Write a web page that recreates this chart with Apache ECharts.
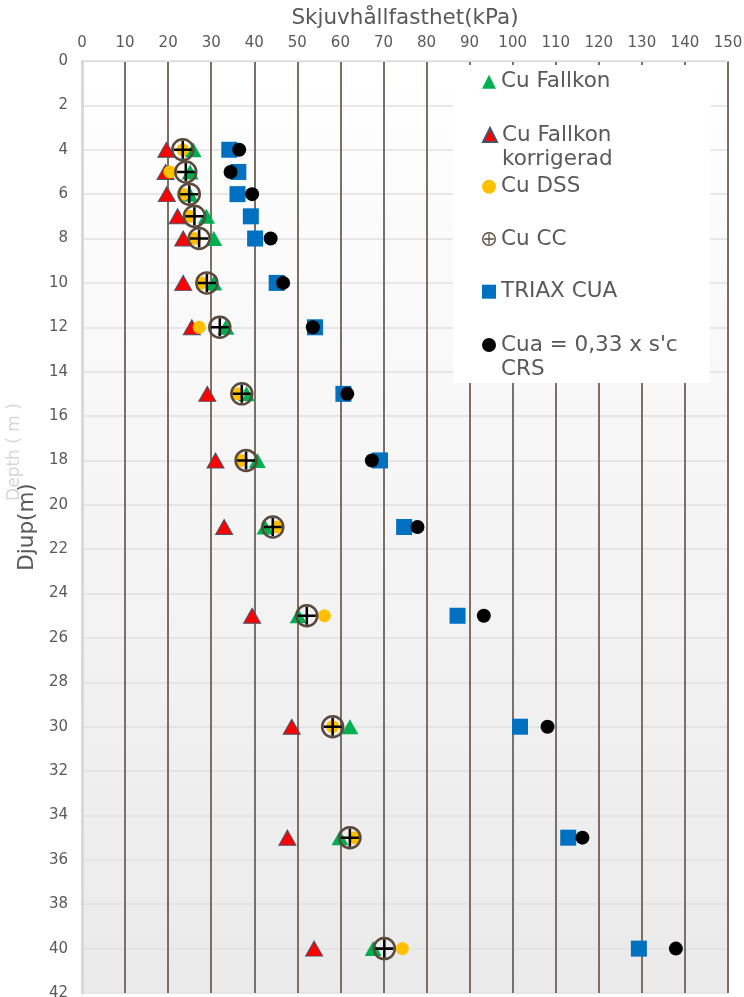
<!DOCTYPE html>
<html>
<head>
<meta charset="utf-8">
<script src="https://cdn.jsdelivr.net/npm/echarts@6/dist/echarts.min.js"></script>
<style>html,body{margin:0;padding:0;background:#fff}#c{width:744px;height:997px}</style>
</head>
<body>
<div id="c"></div>
<script>
// ---- data ----
const depths      = [4, 5, 6, 7, 8, 10, 12, 15, 18, 21, 25, 30, 35, 40];
const cuFallkon   = [25.8, 25.1, 25.0, 28.9, 30.6, 30.6, 33.4, 38.2, 40.7, 42.5, 50.2, 62.2, 59.9, 67.6];
const cuFallkonKorr = [19.6, 19.4, 19.7, 22.2, 23.5, 23.5, 25.5, 29.1, 31.0, 33.0, 39.5, 48.7, 47.7, 53.9];
const cuDSS       = [23.4, 20.4, 23.5, 25.1, 26.2, 27.8, 27.2, 36.3, 37.1, 45.2, 56.3, 58.2, 63.4, 74.4];
const cuCC        = [23.4, 24.1, 24.9, 26.1, 27.2, 29.0, 32.0, 37.1, 38.1, 44.3, 52.2, 58.2, 62.2, 70.2];
const triaxCUA    = [34.2, 36.3, 36.1, 39.2, 40.2, 45.2, 54.1, 60.7, 69.2, 74.8, 87.2, 101.7, 112.9, 129.3];
const cuaCRS      = [36.5, 34.5, 39.5, null, 43.8, 46.7, 53.6, 61.6, 67.3, 77.9, 93.3, 108.1, 116.2, 137.9];

const seriesNames = ['Cu Fallkon', 'Cu Fallkon\nkorrigerad', 'Cu DSS', 'Cu CC', 'TRIAX CUA', "Cua = 0,33 x s'c\nCRS"];
const xTitle = 'Skjuvhållfasthet(kPa)';
const yTitle = 'Djup(m)';
const ghostTitle = 'Depth ( m )';

function pairs(vals) {
  const out = [];
  vals.forEach((v, i) => { if (v !== null) out.push([v, depths[i]]); });
  return out;
}

const plusPath = 'path://M8.6,0H11.4V8.6H20V11.4H11.4V20H8.6V11.4H0V8.6H8.6Z';
const ccIcon = 'path://M0,10A10,10 0 1,0 20,10A10,10 0 1,0 0,10ZM2,10A8,8 0 1,1 18,10A8,8 0 1,1 2,10ZM9.1,3H10.9V9.1H17V10.9H10.9V17H9.1V10.9H3V9.1H9.1Z';

const chart = echarts.init(document.getElementById('c'), null, {renderer: 'canvas'});

const legendTextStyle = {fontFamily: 'DejaVu Sans', fontSize: 21.5, color: '#595959', lineHeight: 24};
function mkLegend(name, top, icon, twoLine, itemStyle) {
  const d = {name: name};
  if (icon) d.icon = icon;
  if (itemStyle) d.itemStyle = itemStyle;
  const l = {
    data: [d], left: 482, top: top, orient: 'vertical', padding: 0,
    itemWidth: 14, itemHeight: 14, selectedMode: false, z: 6,
    textStyle: legendTextStyle
  };
  if (twoLine) l.formatter = function (n) { return '\n' + n; };
  return l;
}

const option = {
  backgroundColor: '#ffffff',
  animation: false,
  grid: {
    left: 82, right: 16, top: 61, bottom: 4,
    outerBoundsMode: 'none', containLabel: false,
    show: true, borderWidth: 0,
    backgroundColor: new echarts.graphic.LinearGradient(0, 0, 0, 1, [
      {offset: 0, color: '#ffffff'}, {offset: 1, color: '#eaeaea'}
    ])
  },
  xAxis: {
    type: 'value', position: 'top', min: 0, max: 150, interval: 10,
    name: xTitle, nameLocation: 'middle', nameGap: 32,
    nameTextStyle: {fontFamily: 'DejaVu Sans', fontSize: 21.5, color: '#595959'},
    axisLine: {show: true, lineStyle: {color: '#d9d9d9', width: 1}},
    axisTick: {show: false},
    axisLabel: {fontFamily: 'DejaVu Sans', fontSize: 15, color: '#595959', margin: 10},
    splitLine: {show: true, lineStyle: {color: '#7d6f64', width: 2}}
  },
  yAxis: {
    type: 'value', inverse: true, min: 0, max: 42, interval: 2,
    name: yTitle, nameLocation: 'middle', nameGap: 44,
    nameTextStyle: {fontFamily: 'DejaVu Sans', fontSize: 21.5, color: '#595959'},
    axisLine: {show: true, onZero: false, lineStyle: {color: '#d9d9d9', width: 3}},
    axisTick: {show: false},
    axisLabel: {fontFamily: 'DejaVu Sans', fontSize: 15, color: '#595959', margin: 14},
    splitLine: {show: true, lineStyle: {color: '#e0e0e0', width: 1.5}}
  },
  legend: [
    mkLegend(seriesNames[0], 69.7, 'triangle'),
    mkLegend(seriesNames[1], 99, 'triangle', true),
    mkLegend(seriesNames[2], 174.7, 'circle'),
    mkLegend(seriesNames[3], 227, ccIcon, false, {color: '#5b4a3c', borderWidth: 0}),
    mkLegend(seriesNames[4], 279.7, 'rect'),
    mkLegend(seriesNames[5], 309, 'circle', true)
  ],
  graphic: [
    {type: 'rect', shape: {x: 453, y: 65, width: 257, height: 318}, style: {fill: '#ffffff'}, z: 5, silent: true},
    {type: 'text', x: 15, y: 452, rotation: Math.PI / 2, z: 1,
     style: {text: ghostTitle, fill: '#d6d6d6', font: '17px "DejaVu Sans"', align: 'center', verticalAlign: 'middle'}}
  ],
  series: [
    {name: seriesNames[0], type: 'scatter', data: pairs(cuFallkon), symbol: 'triangle', symbolSize: [17, 15],
     itemStyle: {color: '#00b050', opacity: 1}, z: 2},
    {name: seriesNames[1], type: 'scatter', data: pairs(cuFallkonKorr), symbol: 'triangle', symbolSize: [17, 15],
     itemStyle: {color: '#ff0000', borderColor: '#44546a', borderWidth: 1, opacity: 1}, z: 2},
    {name: seriesNames[2], type: 'scatter', data: pairs(cuDSS), symbol: 'circle', symbolSize: 13,
     itemStyle: {color: '#ffc000', opacity: 1}, z: 2},
    {name: seriesNames[3], type: 'scatter', data: pairs(cuCC), symbol: 'circle', symbolSize: 21,
     itemStyle: {color: 'rgba(0,0,0,0)', borderColor: '#5b4a3c', borderWidth: 2.5, opacity: 1}, z: 3},
    {name: 'Cu CC plus', type: 'scatter', data: pairs(cuCC), symbol: plusPath, symbolSize: 18,
     itemStyle: {color: '#000000', opacity: 1}, z: 3},
    {name: seriesNames[4], type: 'scatter', data: pairs(triaxCUA), symbol: 'rect', symbolSize: 16,
     itemStyle: {color: '#0070c0', opacity: 1}, z: 2},
    {name: seriesNames[5], type: 'scatter', data: pairs(cuaCRS), symbol: 'circle', symbolSize: 14,
     itemStyle: {color: '#000000', opacity: 1}, z: 2}
  ]
};
chart.setOption(option);
</script>
</body>
</html>
